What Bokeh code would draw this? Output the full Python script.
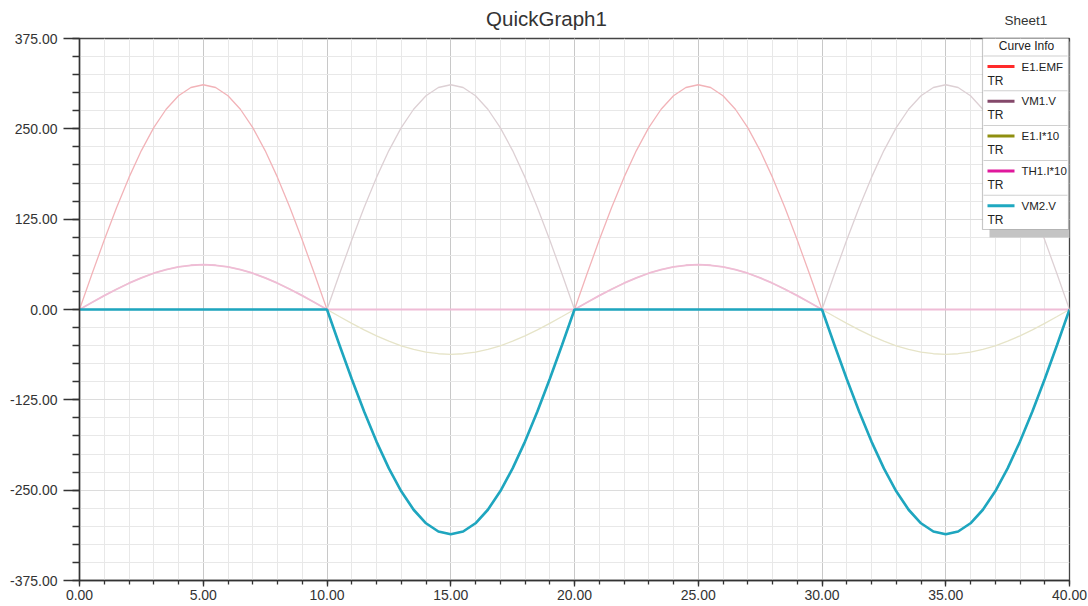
from bokeh.plotting import figure
from bokeh.models import Range1d, FixedTicker, PrintfTickFormatter, Label, BoxAnnotation
from bokeh.embed import file_html
from bokeh.resources import INLINE

# ---------------- data ----------------
t = [i * 0.5 for i in range(81)]

e1_emf = [
    0.0, 48.7, 96.1, 141.2, 182.8, 219.9, 251.6, 277.1, 295.8, 307.2, 311.0, 307.2, 295.8, 277.1, 251.6, 219.9, 182.8, 141.2, 96.1, 48.7,
    0.0, -48.7, -96.1, -141.2, -182.8, -219.9, -251.6, -277.1, -295.8, -307.2, -311.0, -307.2, -295.8, -277.1, -251.6, -219.9, -182.8, -141.2, -96.1, -48.7,
    0.0, 48.7, 96.1, 141.2, 182.8, 219.9, 251.6, 277.1, 295.8, 307.2, 311.0, 307.2, 295.8, 277.1, 251.6, 219.9, 182.8, 141.2, 96.1, 48.7,
    0.0, -48.7, -96.1, -141.2, -182.8, -219.9, -251.6, -277.1, -295.8, -307.2, -311.0, -307.2, -295.8, -277.1, -251.6, -219.9, -182.8, -141.2, -96.1, -48.7,
    0.0]

vm1_v = [
    0.0, 0.0, 0.0, 0.0, 0.0, 0.0, 0.0, 0.0, 0.0, 0.0, 0.0, 0.0, 0.0, 0.0, 0.0, 0.0, 0.0, 0.0, 0.0, 0.0,
    0.0, 48.7, 96.1, 141.2, 182.8, 219.9, 251.6, 277.1, 295.8, 307.2, 311.0, 307.2, 295.8, 277.1, 251.6, 219.9, 182.8, 141.2, 96.1, 48.7,
    0.0, 0.0, 0.0, 0.0, 0.0, 0.0, 0.0, 0.0, 0.0, 0.0, 0.0, 0.0, 0.0, 0.0, 0.0, 0.0, 0.0, 0.0, 0.0, 0.0,
    0.0, 48.7, 96.1, 141.2, 182.8, 219.9, 251.6, 277.1, 295.8, 307.2, 311.0, 307.2, 295.8, 277.1, 251.6, 219.9, 182.8, 141.2, 96.1, 48.7,
    0.0]

e1_i10 = [
    0.0, 9.7, 19.2, 28.1, 36.4, 43.8, 50.2, 55.2, 59.0, 61.2, 62.0, 61.2, 59.0, 55.2, 50.2, 43.8, 36.4, 28.1, 19.2, 9.7,
    0.0, -9.7, -19.2, -28.1, -36.4, -43.8, -50.2, -55.2, -59.0, -61.2, -62.0, -61.2, -59.0, -55.2, -50.2, -43.8, -36.4, -28.1, -19.2, -9.7,
    0.0, 9.7, 19.2, 28.1, 36.4, 43.8, 50.2, 55.2, 59.0, 61.2, 62.0, 61.2, 59.0, 55.2, 50.2, 43.8, 36.4, 28.1, 19.2, 9.7,
    0.0, -9.7, -19.2, -28.1, -36.4, -43.8, -50.2, -55.2, -59.0, -61.2, -62.0, -61.2, -59.0, -55.2, -50.2, -43.8, -36.4, -28.1, -19.2, -9.7,
    0.0]

th1_i10 = [
    0.0, 9.7, 19.2, 28.1, 36.4, 43.8, 50.2, 55.2, 59.0, 61.2, 62.0, 61.2, 59.0, 55.2, 50.2, 43.8, 36.4, 28.1, 19.2, 9.7,
    0.0, 0.0, 0.0, 0.0, 0.0, 0.0, 0.0, 0.0, 0.0, 0.0, 0.0, 0.0, 0.0, 0.0, 0.0, 0.0, 0.0, 0.0, 0.0, 0.0,
    0.0, 9.7, 19.2, 28.1, 36.4, 43.8, 50.2, 55.2, 59.0, 61.2, 62.0, 61.2, 59.0, 55.2, 50.2, 43.8, 36.4, 28.1, 19.2, 9.7,
    0.0, 0.0, 0.0, 0.0, 0.0, 0.0, 0.0, 0.0, 0.0, 0.0, 0.0, 0.0, 0.0, 0.0, 0.0, 0.0, 0.0, 0.0, 0.0, 0.0,
    0.0]

vm2_v = [
    0.0, 0.0, 0.0, 0.0, 0.0, 0.0, 0.0, 0.0, 0.0, 0.0, 0.0, 0.0, 0.0, 0.0, 0.0, 0.0, 0.0, 0.0, 0.0, 0.0,
    0.0, -48.7, -96.1, -141.2, -182.8, -219.9, -251.6, -277.1, -295.8, -307.2, -311.0, -307.2, -295.8, -277.1, -251.6, -219.9, -182.8, -141.2, -96.1, -48.7,
    0.0, 0.0, 0.0, 0.0, 0.0, 0.0, 0.0, 0.0, 0.0, 0.0, 0.0, 0.0, 0.0, 0.0, 0.0, 0.0, 0.0, 0.0, 0.0, 0.0,
    0.0, -48.7, -96.1, -141.2, -182.8, -219.9, -251.6, -277.1, -295.8, -307.2, -311.0, -307.2, -295.8, -277.1, -251.6, -219.9, -182.8, -141.2, -96.1, -48.7,
    0.0]

x_ticks = [0, 5, 10, 15, 20, 25, 30, 35, 40]
x_minor = list(range(0, 41))
y_ticks = [-375, -250, -125, 0, 125, 250, 375]
y_minor = list(range(-375, 376, 25))

series_names = ["E1.EMF", "VM1.V", "E1.I*10", "TH1.I*10", "VM2.V"]
legend_colors = ["#ff2a2a", "#84486a", "#8f8f10", "#e0189c", "#1fa8c0"]
plot_colors = ["#f2b3b8", "#ddd0d4", "#e6e4c8", "#efbcd6", "#1ea6bf"]
plot_widths = [1.3, 1.3, 1.3, 1.8, 2.6]
series_values = [e1_emf, vm1_v, e1_i10, th1_i10, vm2_v]

# ---------------- figure ----------------
W, H = 1088, 606
FONT = "Liberation Sans"

p = figure(width=W, height=H, output_backend="svg", toolbar_location=None,
           x_range=Range1d(0, 40), y_range=Range1d(-375, 375),
           min_border_left=79, min_border_right=19, min_border_top=37, min_border_bottom=26)
p.background_fill_color = "white"
p.border_fill_color = "white"
p.outline_line_color = "#444444"
p.outline_line_width = 1.3
p.title.visible = False

p.xaxis.ticker = FixedTicker(ticks=x_ticks, minor_ticks=x_minor)
p.yaxis.ticker = FixedTicker(ticks=y_ticks, minor_ticks=y_minor)
p.yaxis.formatter = PrintfTickFormatter(format="%.2f")
p.xaxis.formatter = PrintfTickFormatter(format="%.2f")

for ax in (p.xaxis, p.yaxis):
    ax.axis_line_color = "#333333"
    ax.axis_line_width = 1.5
    ax.major_tick_line_color = "#333333"
    ax.minor_tick_line_color = "#333333"
    ax.major_tick_line_width = 1.3
    ax.minor_tick_line_width = 1.3
    ax.major_tick_in = 0
    ax.minor_tick_in = 0
    ax.major_label_text_font = FONT
    ax.major_label_text_color = "#333333"
    ax.major_label_text_font_size = "14px"

p.yaxis.major_tick_out = 16
p.yaxis.minor_tick_out = 7
p.yaxis.major_label_standoff = 6

p.xaxis.major_tick_out = 6
p.xaxis.minor_tick_out = 4
p.xaxis.major_label_standoff = 3

p.xgrid.grid_line_color = "#c8c8c8"
p.xgrid.minor_grid_line_color = "#e8e8e8"
p.ygrid.grid_line_color = "#dcdcdc"
p.ygrid.minor_grid_line_color = "#e8e8e8"

for vals, col, lw in zip(series_values, plot_colors, plot_widths):
    p.line(t, vals, line_color=col, line_width=lw)


def box(left, right, top, bottom, **kw):
    return BoxAnnotation(left=left, right=right, top=top, bottom=bottom,
                         left_units="canvas", right_units="canvas",
                         top_units="canvas", bottom_units="canvas", level="overlay", **kw)


def label(x, y, text, size="12px", align="left", color="#222222", font=FONT):
    return Label(x=x, y=y, x_units="canvas", y_units="canvas", text=text,
                 text_align=align, text_baseline="middle", text_font=font,
                 text_font_size=size, text_color=color, level="overlay")


# title and sheet name, placed in the top side panel (outside the frame)
p.add_layout(label(546, 18, "QuickGraph1", size="20.5px", align="center", color="#333333"), "above")
p.add_layout(label(1004, 20, "Sheet1", size="13.5px", color="#333333"), "above")

# legend ("Curve Info") box
L, R, T, B = 982, 1068, 33, 229
p.add_layout(box(L + 7, R + 7, T + 8, B + 8, fill_color="#c4c4c4", fill_alpha=1.0, line_alpha=0))
p.add_layout(box(L, R, T, B, fill_color="white", fill_alpha=1.0, line_color="#444444", line_width=1.2))
p.add_layout(label(1026, 45, "Curve Info", align="center"))
for i, (name, col) in enumerate(zip(series_names, legend_colors)):
    div_y = 55 + 34.8 * i
    p.add_layout(box(L + 1, R - 1, div_y, div_y + 1, fill_color="#d0d0d0", fill_alpha=1.0, line_alpha=0))
    ly = 66 + 34.8 * i
    p.add_layout(box(987, 1014, ly - 1.5, ly + 1.5, fill_color=col, fill_alpha=1.0, line_alpha=0))
    p.add_layout(label(1021, ly, name, size="11.5px"))
    p.add_layout(label(987, ly + 14, "TR"))

open("out.html", "w").write(file_html(p, INLINE))
